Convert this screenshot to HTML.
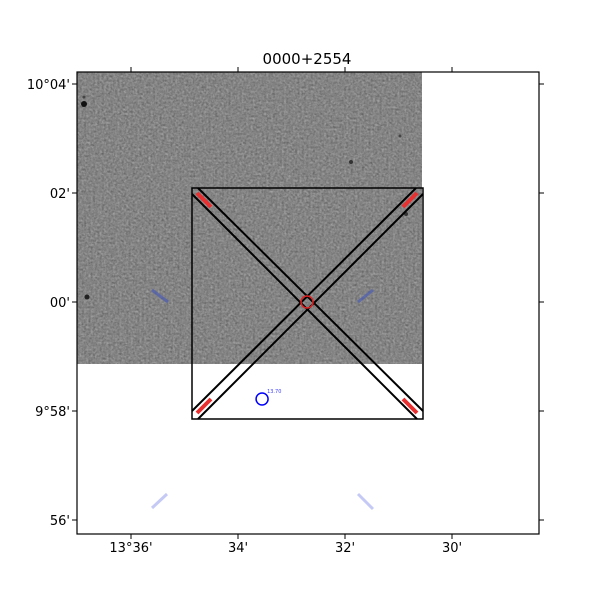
<!DOCTYPE html>
<html><head><meta charset="utf-8"><style>
body{margin:0;background:#fff;width:600px;height:600px;overflow:hidden}
text{font-family:"DejaVu Sans","Liberation Sans",sans-serif}
</style></head><body>
<svg id="chart" width="600" height="600" xmlns="http://www.w3.org/2000/svg">
<defs>
<filter id="noise" x="0" y="0" width="100%" height="100%" color-interpolation-filters="sRGB">
<feTurbulence type="fractalNoise" baseFrequency="0.45" numOctaves="2" seed="3"/>
<feColorMatrix type="matrix" values="0.33 0.33 0.33 0 0  0.33 0.33 0.33 0 0  0.33 0.33 0.33 0 0  0 0 0 0 1"/>
<feComponentTransfer><feFuncR type="linear" slope="1.8" intercept="-0.38"/><feFuncG type="linear" slope="1.8" intercept="-0.38"/><feFuncB type="linear" slope="1.8" intercept="-0.38"/></feComponentTransfer>
</filter>
</defs>
<text x="307" y="64" text-anchor="middle" font-size="15">0000+2554</text>
<g>
<rect x="77" y="72" width="345" height="292" fill="#858585"/>
<rect x="77" y="72" width="345" height="292" filter="url(#noise)" opacity="0.28"/>
<circle cx="84" cy="104" r="3" fill="#111"/>
<circle cx="84" cy="97" r="1.5" fill="#444"/>
<circle cx="87" cy="297" r="2.5" fill="#222"/>
<circle cx="351" cy="162" r="2" fill="#333"/>
<circle cx="406" cy="214" r="2" fill="#333"/>
<circle cx="400" cy="136" r="1.5" fill="#444"/>
</g>
<g id="overlay"></g>
<g id="axes"></g>
</svg>
<script>
const xTickLabels=["13°36'","34'","32'","30'"];
const xTickVals=[-4,-2,0,2]; // arcmin offset relative to 13°32'
const yTickLabels=["10°04'","02'","00'","9°58'","56'"];
const yTickVals=[4,2,0,-2,-4]; // arcmin offset relative to 10°00'
const blueStarMag=["13.70"];
const blueStarPos=[[-1.55,-1.78]];
const NS="http://www.w3.org/2000/svg";
const L=77,R=539,T=72,B=534;
const cx=345,cy=302,ppmx=53.5,ppmy=54.5;
const X=v=>cx+v*ppmx, Y=v=>cy-v*ppmy;
function mk(tag,attrs,parent){const e=document.createElementNS(NS,tag);for(const k in attrs)e.setAttribute(k,attrs[k]);parent.appendChild(e);return e;}
const ov=document.getElementById('overlay'), ax=document.getElementById('axes');
let box=mk('rect',{x:192,y:188,width:231,height:231,fill:'none',stroke:'#000','stroke-width':1.5},ov);


const lines=[[198,188,423,411],[192,194,417,419],[416,188,192,411],[423,194,198,419]];
lines.forEach(l=>{let e=mk('line',{x1:l[0],y1:l[1],x2:l[2],y2:l[3],stroke:'#000','stroke-width':2},ov);

});
const reds=[[197,193,211,207],[403,207,417,193],[197,413,211,399],[403,399,417,413]];
reds.forEach(l=>{let e=mk('line',{x1:l[0],y1:l[1],x2:l[2],y2:l[3],stroke:'#e83030','stroke-width':4},ov);

});
let tc=mk('circle',{cx:307,cy:302,r:6,fill:'none',stroke:'#e02020','stroke-width':1.5},ov);


const blues=[[152,290,168,302,'#5060b0',0.75],[358,302,373,290,'#5060b0',0.75],[152,508,167,494,'#a0a8f0',0.6],[358,494,373,509,'#a0a8f0',0.6]];
blues.forEach(l=>{let e=mk('line',{x1:l[0],y1:l[1],x2:l[2],y2:l[3],stroke:l[4],'stroke-width':3,opacity:l[5]},ov);

});
blueStarPos.forEach((p,i)=>{
 let c=mk('circle',{cx:X(p[0]),cy:Y(p[1]),r:6,fill:'none',stroke:'#0000ff','stroke-width':1.5},ov);
 
 
 let t=mk('text',{x:X(p[0])+5,y:Y(p[1])-6,'font-size':5,fill:'#4040ff'},ov);t.textContent=blueStarMag[i];
 
 
});
let fr=mk('rect',{x:L,y:T,width:R-L,height:B-T,fill:'none',stroke:'#000','stroke-width':1.2},ax);


xTickVals.forEach((v,i)=>{const x=X(v);
 mk('line',{x1:x,y1:B,x2:x,y2:B+5,stroke:'#000'},ax);mk('line',{x1:x,y1:T,x2:x,y2:T-5,stroke:'#000'},ax);
 let t=mk('text',{x:x,y:B+18,'text-anchor':'middle','font-size':13},ax);t.textContent=xTickLabels[i];
 
 });
yTickVals.forEach((v,i)=>{const y=Y(v);
 mk('line',{x1:L,y1:y,x2:L-5,y2:y,stroke:'#000'},ax);mk('line',{x1:R,y1:y,x2:R+5,y2:y,stroke:'#000'},ax);
 let t=mk('text',{x:L-7,y:y+5,'text-anchor':'end','font-size':13},ax);t.textContent=yTickLabels[i];
 
 });
</script>
</body></html>
